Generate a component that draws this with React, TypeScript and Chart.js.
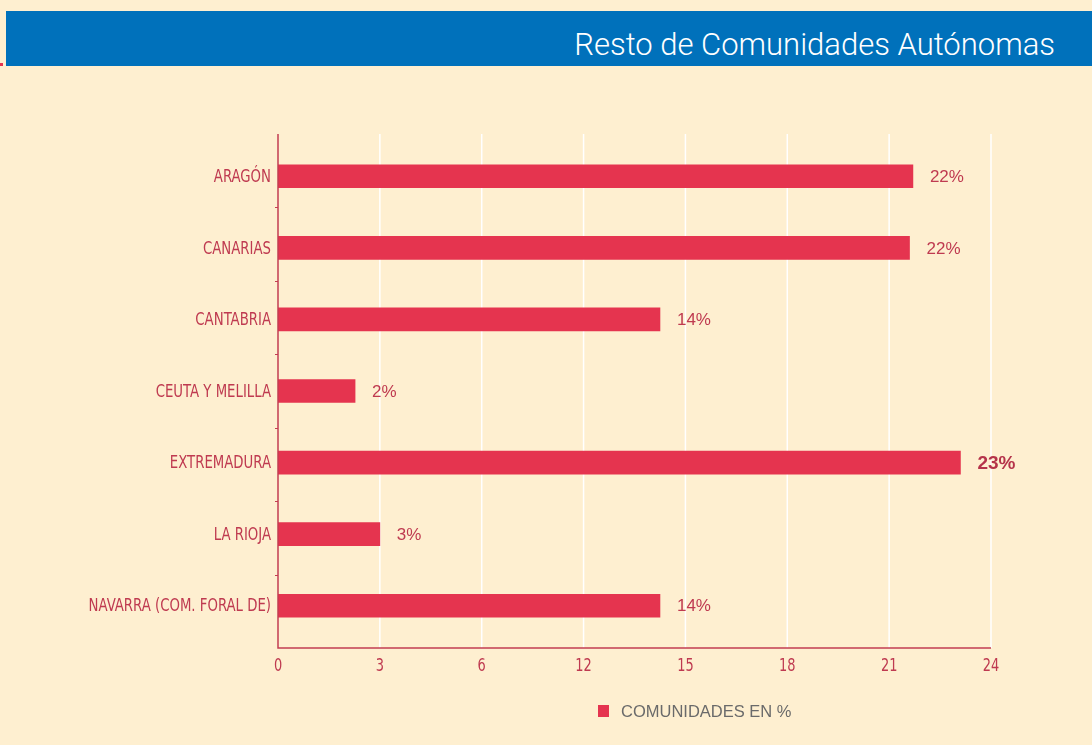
import React, { useEffect, useRef } from "react";
import { Chart, registerables } from "chart.js";

Chart.register(...registerables);

const title = "Resto de Comunidades Autónomas";
const seriesLabel = "COMUNIDADES EN %";
const categories = [
  "ARAGÓN",
  "CANARIAS",
  "CANTABRIA",
  "CEUTA Y MELILLA",
  "EXTREMADURA",
  "LA RIOJA",
  "NAVARRA (COM. FORAL DE)",
];
// bar ends read against the printed axis
const values = [21.7, 21.6, 14.25, 2.27, 23.1, 3.0, 14.25];
const valueLabels = ["22%", "22%", "14%", "2%", "23%", "3%", "14%"];
const highlighted = [false, false, false, false, true, false, false];
// printed tick labels (the printed axis skips 9)
const tickLabels = ["0", "3", "6", "12", "15", "18", "21", "24"];

const BG = "#FEEFD0";
const BANNER = "#0071BB";
const BAR = "#E5344F";
const LABEL_RED = "#BF3A50";
const AXIS_RED = "#C23E52";
const CONDENSED = '"DejaVu Sans Condensed", "DejaVu Sans", sans-serif';
const EXT = 6.5; // axis lines extend slightly beyond the bar band

const tickNums = tickLabels.map(Number);
const STEP = 3;
// map a value on the printed axis to an evenly spaced axis position
function toAxis(v: number): number {
  for (let i = 0; i < tickNums.length - 1; i++) {
    const a = tickNums[i];
    const b = tickNums[i + 1];
    if (v <= b || i === tickNums.length - 2) {
      return STEP * i + (STEP * (v - a)) / (b - a);
    }
  }
  return v;
}

function drawCondensed(ctx: any, text: string, x: number, y: number, align: string, sx: number) {
  ctx.save();
  ctx.translate(x, y);
  ctx.scale(sx, 1);
  ctx.textAlign = align;
  ctx.textBaseline = "middle";
  ctx.fillText(text, 0, 0);
  ctx.restore();
}

const framePlugin = {
  id: "frame",
  beforeDatasetsDraw(chart: any) {
    const ctx = chart.ctx;
    const a = chart.chartArea;
    const x = chart.scales.x;
    const top = a.top - EXT;
    const bottom = a.bottom + EXT;
    ctx.save();
    ctx.strokeStyle = "#FFFFFF";
    ctx.lineWidth = 1.5;
    x.ticks.forEach((t: any) => {
      const px = x.getPixelForValue(t.value);
      if (px <= a.left + 1) return;
      ctx.beginPath();
      ctx.moveTo(px, top);
      ctx.lineTo(px, bottom);
      ctx.stroke();
    });
    ctx.restore();
  },
  afterDatasetsDraw(chart: any) {
    const ctx = chart.ctx;
    const a = chart.chartArea;
    const x = chart.scales.x;
    const y = chart.scales.y;
    const top = a.top - EXT;
    const bottom = a.bottom + EXT;
    ctx.save();
    ctx.strokeStyle = AXIS_RED;
    ctx.lineWidth = 1.5;
    ctx.beginPath();
    ctx.moveTo(a.left, top);
    ctx.lineTo(a.left, bottom);
    ctx.lineTo(a.right, bottom);
    ctx.stroke();
    // category boundary tick marks
    const n = categories.length;
    const slot = (bottom - top) / n;
    ctx.lineWidth = 1;
    for (let i = 1; i < n; i++) {
      const py = Math.round(top + slot * i) + 0.5;
      ctx.beginPath();
      ctx.moveTo(a.left - 3, py);
      ctx.lineTo(a.left, py);
      ctx.stroke();
    }
    // category labels
    ctx.fillStyle = LABEL_RED;
    ctx.font = `18px ${CONDENSED}`;
    categories.forEach((c, i) => {
      drawCondensed(ctx, c, a.left - 7, y.getPixelForValue(i) + 1, "right", 0.82);
    });
    // x tick labels
    ctx.font = `18px ${CONDENSED}`;
    x.ticks.forEach((t: any, i: number) => {
      const px = x.getPixelForValue(t.value);
      drawCondensed(ctx, tickLabels[i], px, bottom + 18, "center", 0.8);
    });
    ctx.restore();
  },
};

const valueLabelPlugin = {
  id: "valueLabels",
  afterDatasetsDraw(chart: any) {
    const ctx = chart.ctx;
    const meta = chart.getDatasetMeta(0);
    ctx.save();
    ctx.textBaseline = "middle";
    ctx.textAlign = "left";
    meta.data.forEach((bar: any, i: number) => {
      if (highlighted[i]) {
        ctx.font = 'bold 19px "Liberation Sans", Arial, sans-serif';
        ctx.fillStyle = "#B5334A";
      } else {
        ctx.font = '17px "Liberation Sans", Arial, sans-serif';
        ctx.fillStyle = LABEL_RED;
      }
      ctx.fillText(valueLabels[i], bar.x + 17, bar.y + 1);
    });
    ctx.restore();
  },
};

const legendPlugin = {
  id: "customLegend",
  afterDraw(chart: any) {
    const ctx = chart.ctx;
    ctx.save();
    const ds = chart.data.datasets[0];
    ctx.fillStyle = ds.backgroundColor;
    ctx.fillRect(598, 705, 11, 12);
    ctx.fillStyle = "#6A6A6A";
    ctx.font = '16.5px "Liberation Sans", Arial, sans-serif';
    ctx.textBaseline = "middle";
    ctx.textAlign = "left";
    ctx.fillText(ds.label, 621, 712);
    ctx.restore();
  },
};

function BarChart() {
  const ref = useRef<HTMLCanvasElement | null>(null);
  useEffect(() => {
    if (!ref.current) return;
    const chart = new Chart(ref.current, {
      type: "bar",
      data: {
        labels: categories,
        datasets: [
          {
            label: seriesLabel,
            data: values.map(toAxis),
            backgroundColor: BAR,
            borderWidth: 0,
            barThickness: 23,
          },
        ],
      },
      options: {
        indexAxis: "y",
        animation: false,
        responsive: false,
        maintainAspectRatio: false,
        layout: { padding: { top: 140.5, right: 101, bottom: 73.5, left: 0 } },
        plugins: {
          legend: { display: false },
          tooltip: { enabled: false },
        },
        scales: {
          x: {
            type: "linear",
            min: 0,
            max: STEP * (tickLabels.length - 1),
            afterFit: (s: any) => {
              s.height = 30;
            },
            ticks: { stepSize: STEP, display: false },
            grid: { display: false },
            border: { display: false },
          },
          y: {
            afterFit: (s: any) => {
              s.width = 278;
            },
            ticks: { display: false },
            grid: { display: false, offset: true },
            border: { display: false },
          },
        },
      },
      plugins: [framePlugin, valueLabelPlugin, legendPlugin],
    });
    return () => chart.destroy();
  }, []);
  return (
    <canvas
      ref={ref}
      width={1092}
      height={745}
      style={{ position: "absolute", left: 0, top: 0, width: 1092, height: 745 }}
    />
  );
}

export default function App() {
  return (
    <div
      style={{
        position: "fixed",
        left: 0,
        top: 0,
        width: 1092,
        height: 745,
        background: BG,
        overflow: "hidden",
      }}
    >
      <div
        style={{
          position: "absolute",
          left: 6,
          top: 11,
          right: 0,
          height: 55,
          background: BANNER,
        }}
      />
      <div
        style={{
          position: "absolute",
          left: 0,
          top: 63,
          width: 3,
          height: 3,
          background: BAR,
        }}
      />
      <div
        style={{
          position: "absolute",
          right: 37,
          top: 17,
          height: 55,
          lineHeight: "55px",
          color: "#FFFFFF",
          fontFamily: "Roboto, sans-serif",
          fontWeight: 300,
          fontSize: 31,
          whiteSpace: "nowrap",
        }}
      >
        {title}
      </div>
      <BarChart />
    </div>
  );
}
